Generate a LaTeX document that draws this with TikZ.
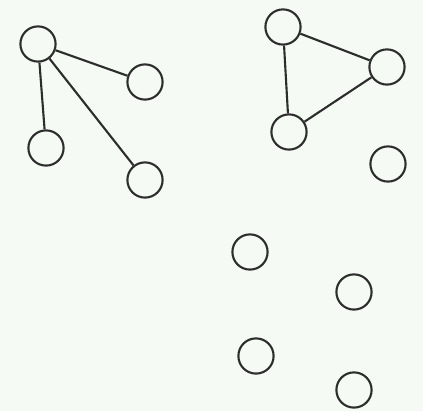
\documentclass[tikz,border=0pt]{standalone}
\usepackage{xcolor}
\usepackage{tikz}
\definecolor{bgpaper}{RGB}{245,250,244}
\definecolor{inkgray}{RGB}{45,45,45}

\begin{document}
\begin{tikzpicture}[x=0.025cm, y=-0.025cm,
    vtx/.style={circle, draw=inkgray, line width=1.5pt, inner sep=0pt, minimum size=0.88cm},
    lnk/.style={draw=inkgray, line width=1.5pt}]
  % --- page background, fixes the margins ------------------------------
  \fill[bgpaper] (0,0) rectangle (423,411);
  \useasboundingbox (0,0) rectangle (423,411);
  % --- the twelve vertices ---------------------------------------------
  \foreach \n/\px/\py in {a/38/44, b/145/82, c/46/148, d/145/180,
                          e/283/27, f/387/67, g/289/132, h/388/164,
                          i/250/252, j/354/292, k/256/356, l/354/390} {
     \node[vtx] (\n) at (\px,\py) {};
  }
  % --- star on the left, triangle on the right -------------------------
  \foreach \s/\t in {a/b, a/c, a/d, e/f, e/g, g/f} {
     \draw[lnk] (\s) -- (\t);
  }
\end{tikzpicture}
\end{document}
